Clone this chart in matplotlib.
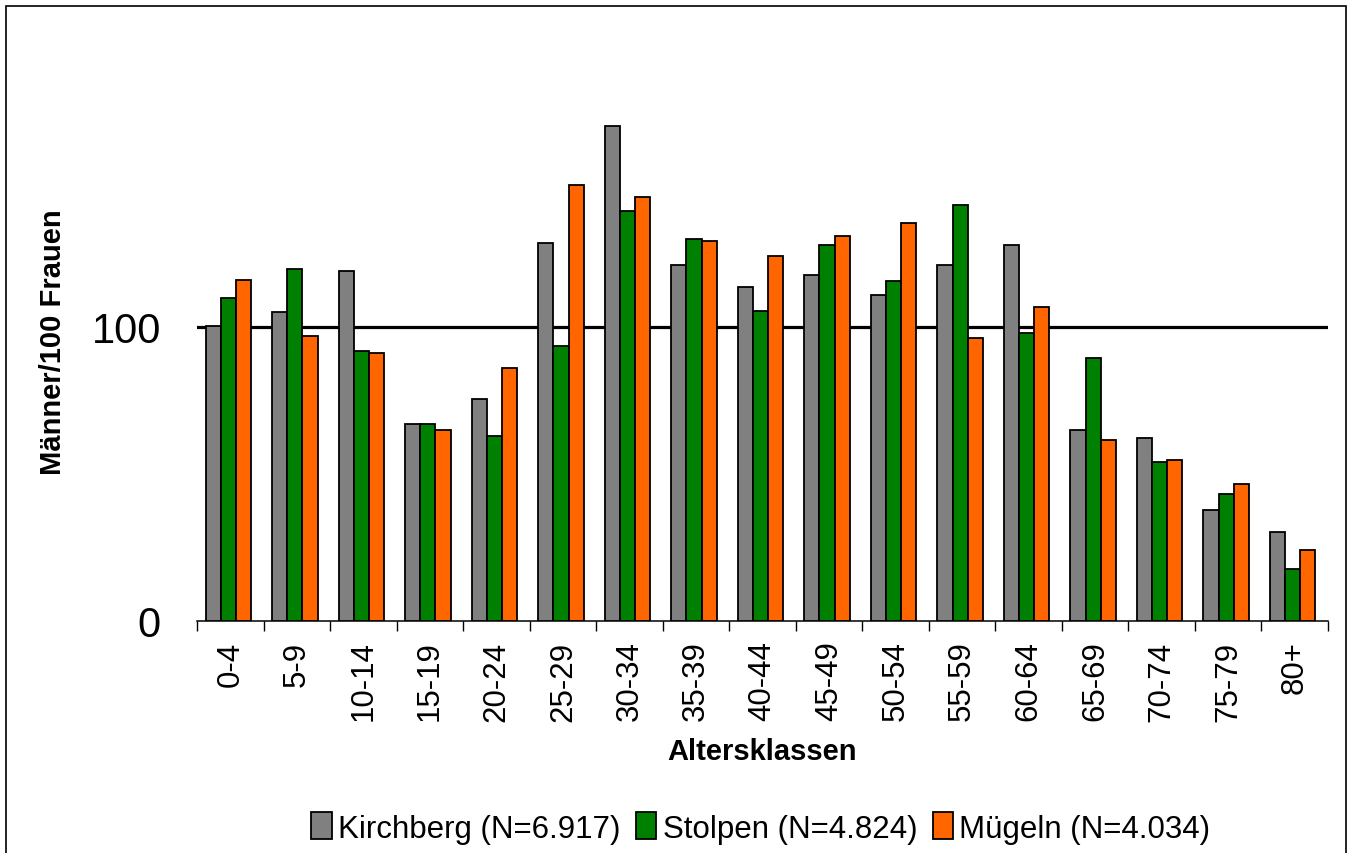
import matplotlib
matplotlib.use("Agg")
import matplotlib.pyplot as plt
import numpy as np
from matplotlib.patches import Rectangle

plt.rcParams['font.family'] = ['Liberation Sans', 'DejaVu Sans']

# Age classes and sex ratio (men per 100 women) for the three towns
age_classes = ['0-4', '5-9', '10-14', '15-19', '20-24', '25-29', '30-34', '35-39',
               '40-44', '45-49', '50-54', '55-59', '60-64', '65-69', '70-74', '75-79', '80+']
kirchberg = [100.5, 105.2, 119.0, 67.1, 75.4, 128.5, 168.3, 121.2, 113.6, 117.7,
             111.0, 121.2, 127.9, 65.0, 62.4, 37.6, 30.2]
stolpen = [110.0, 119.6, 91.7, 67.1, 63.0, 93.5, 139.4, 130.0, 105.5, 127.9,
           115.6, 141.5, 97.8, 89.6, 54.0, 43.2, 17.7]
muegeln = [116.1, 97.1, 91.0, 65.0, 86.1, 148.4, 144.2, 129.3, 124.0, 130.8,
           135.4, 96.4, 106.7, 61.6, 54.7, 46.6, 24.0]

series_labels = ['Kirchberg (N=6.917)', 'Stolpen (N=4.824)', 'Mügeln (N=4.034)']
series_colors = ['#808080', '#008000', '#FF6600']

W, H = 1349, 854
fig = plt.figure(figsize=(W / 100, H / 100), dpi=100)
ax = fig.add_axes([197 / W, (H - 622) / H, (1328 - 197) / W, (622 - 34) / H])

x = np.arange(len(age_classes))
width = 0.228
shift = -0.03
for k, (vals, lab, col) in enumerate(zip([kirchberg, stolpen, muegeln], series_labels, series_colors)):
    ax.bar(x + shift + (k - 1) * width, vals, width, color=col, edgecolor='black',
           linewidth=1.3, label=lab, zorder=3)

# reference line at parity
ax.axhline(100, color='black', linewidth=2.3, zorder=2)

ax.set_xlim(-0.5, len(age_classes) - 0.5)
ax.set_ylim(0, 200)
ax.set_yticks([0, 100])
ax.set_yticklabels(['0', '100'], fontsize=30)
ax.tick_params(axis='y', length=0, pad=26)

ax.set_xticks(x)
ax.set_xticklabels(age_classes, rotation=90, fontsize=22.5)
ax.set_xticks(np.arange(-0.5, len(age_classes), 1), minor=True)
ax.tick_params(axis='x', which='major', length=0, pad=14)
ax.tick_params(axis='x', which='minor', length=7.5, width=1.0, direction='out')

for side in ['top', 'right', 'left']:
    ax.spines[side].set_visible(False)
ax.spines['bottom'].set_linewidth(1.1)

fig.text(762 / W, (H - 752) / H, 'Altersklassen', ha='center', va='center',
         fontsize=21, fontweight='bold')
fig.text(53 / W, (H - 342) / H, 'Männer/100 Frauen', ha='center', va='center',
         rotation=90, fontsize=21, fontweight='bold')

fig.legend(loc='center', bbox_to_anchor=(761 / W, (H - 829) / H), ncol=3, frameon=False,
           fontsize=22.5, handlelength=0.65, handleheight=0.95, handletextpad=0.2,
           columnspacing=0.5, borderpad=0)

# outer chart frame
fig.patches.append(Rectangle((6 / W, -0.02), (1346 - 6) / W, (H - 7) / H + 0.02,
                             transform=fig.transFigure, fill=False,
                             edgecolor='black', linewidth=1.2))

fig.savefig('out.png', dpi=100)
